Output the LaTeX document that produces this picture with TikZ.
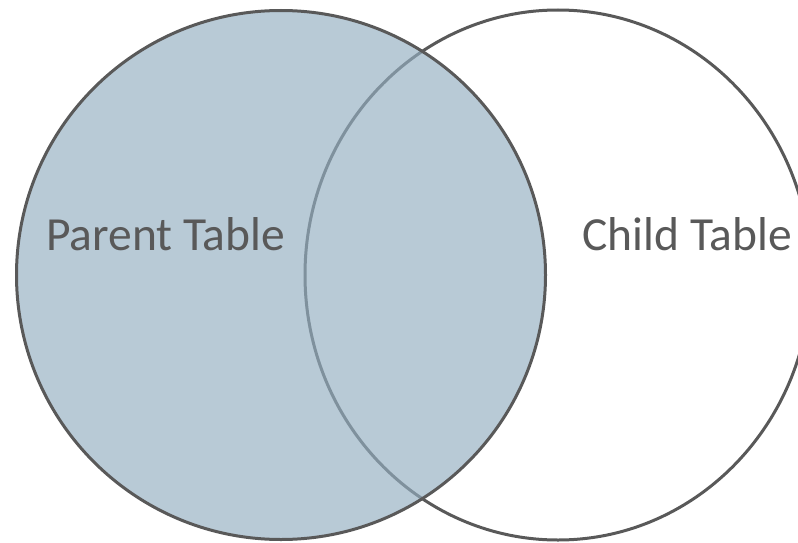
\documentclass[tikz,border=0pt]{standalone}
\usepackage{fontspec}
\setmainfont{Carlito}
\usepackage{tikz}
\usetikzlibrary{shapes.geometric}
\usepackage{xcolor}
\definecolor{setfill}{HTML}{93AEC1}
\definecolor{setline}{HTML}{595959}

\begin{document}
\begin{tikzpicture}[x=1pt, y=-1pt,
  setshape/.style={draw=setline, line width=3pt, inner sep=0pt, outer sep=0pt},
  setlabel/.style={text=setline, font=\fontsize{47.5}{57}\selectfont, inner sep=0pt}]
  \useasboundingbox (0,0) rectangle (798,543);
  % right set first, the left one lies over it
  \node[setshape, ellipse, minimum width=506pt, minimum height=530pt] (child) at (558,275) {};
  \node[setshape, circle, minimum size=529pt, fill=setfill, fill opacity=0.66,
        draw opacity=1] (parent) at (281,275) {};
  \node[setlabel, anchor=base west] (parentlbl) at (46,250) {Parent Table};
  \node[setlabel, anchor=base east] (childlbl) at (792,250) {Child Table};
\end{tikzpicture}
\end{document}
